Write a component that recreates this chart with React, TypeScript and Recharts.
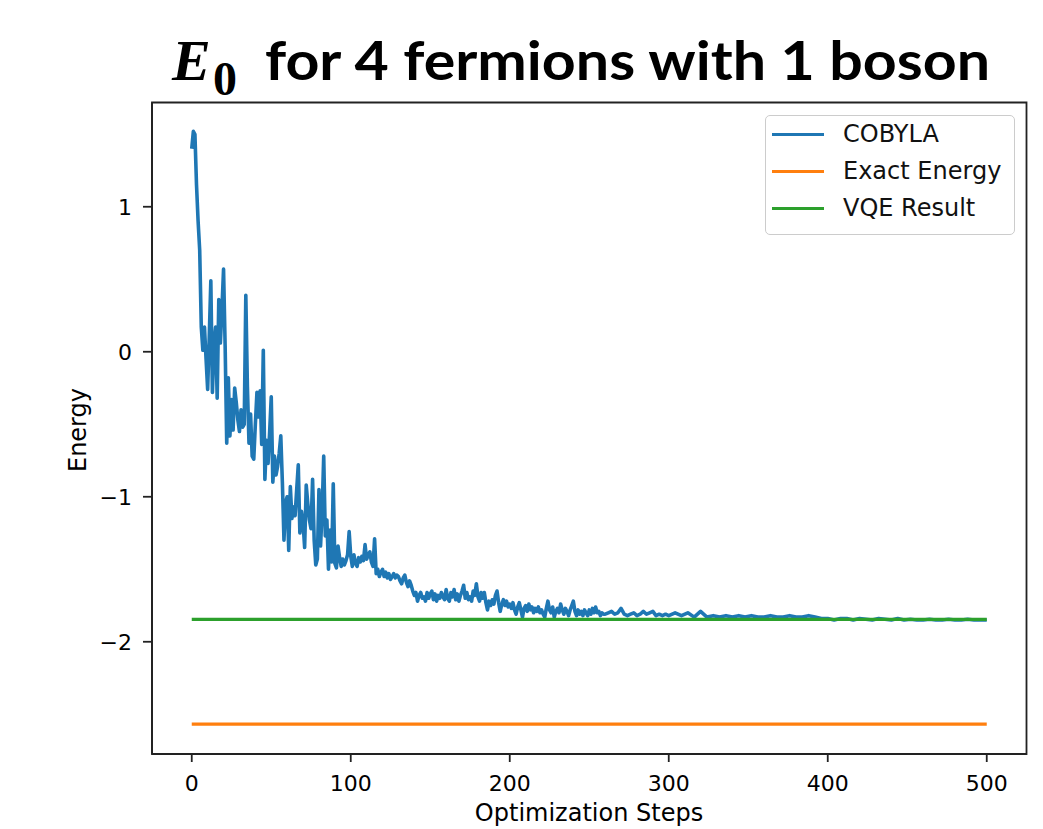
import { LineChart, Line, XAxis, YAxis, Legend, ReferenceArea } from "recharts";

// COBYLA energy per optimization step
// steps 0..119, one value per step
const cobylaEarly = [
  1.4, 1.52, 1.5, 1.15, 0.9, 0.7, 0.17, 0.01, 0.17, -0.05,
  -0.26, 0.1, 0.49, -0.28, 0.05, 0.17, -0.32, 0.36, 0.06, 0.3,
  0.57, 0.04, -0.63, -0.18, -0.58, -0.33, -0.54, -0.25, -0.35, -0.47,
  -0.55, -0.4, -0.52, -0.5, 0.39, -0.24, -0.63, -0.43, -0.72, -0.74,
  -0.5, -0.28, -0.45, -0.27, -0.64, 0.01, -0.88, -0.61, -0.77, -0.55,
  -0.31, -0.9, -0.72, -0.85, -0.79, -0.7, -0.58, -0.9, -1.3, -1.04,
  -1.0, -1.37, -0.93, -1.15, -1.07, -1.13, -0.95, -0.78, -1.25, -1.1,
  -1.18, -1.35, -0.92, -1.05, -1.16, -1.22, -0.88, -1.3, -1.47, -1.43,
  -0.95, -1.34, -1.1, -0.72, -1.27, -1.16, -1.5, -1.23, -1.45, -0.91,
  -1.46, -1.49, -1.34, -1.42, -1.48, -1.43, -1.47, -1.44, -1.4, -1.24,
  -1.41, -1.48, -1.4, -1.46, -1.48, -1.42, -1.45, -1.41, -1.44, -1.33,
  -1.43, -1.4, -1.38, -1.45, -1.48, -1.29, -1.53, -1.5, -1.55, -1.52,
];

// steps 120..259, one value per step
const cobylaMid = [
  -1.5, -1.55, -1.52, -1.56, -1.53, -1.57, -1.55, -1.53, -1.56, -1.54,
  -1.55, -1.58, -1.6, -1.56, -1.54, -1.59, -1.62, -1.58, -1.61, -1.65,
  -1.68, -1.66, -1.72, -1.68, -1.66, -1.7, -1.69, -1.72, -1.66, -1.7,
  -1.67, -1.65, -1.71, -1.67, -1.72, -1.68, -1.7, -1.66, -1.69, -1.71,
  -1.64, -1.7, -1.72, -1.66, -1.69, -1.64, -1.71, -1.67, -1.72, -1.68,
  -1.65, -1.61, -1.7, -1.66, -1.71, -1.69, -1.72, -1.65, -1.68, -1.6,
  -1.69, -1.72, -1.66, -1.7, -1.66, -1.73, -1.78, -1.72, -1.75, -1.71,
  -1.74, -1.68, -1.65, -1.73, -1.79, -1.74, -1.71, -1.75, -1.72, -1.76,
  -1.74, -1.77, -1.73, -1.78, -1.81, -1.76, -1.73, -1.78, -1.83, -1.77,
  -1.75, -1.79, -1.74, -1.78, -1.76, -1.8, -1.77, -1.79, -1.76, -1.8,
  -1.78, -1.81, -1.83, -1.77, -1.72, -1.78, -1.8, -1.76, -1.83, -1.79,
  -1.77, -1.8, -1.74, -1.78, -1.81, -1.77, -1.79, -1.82, -1.78, -1.75,
  -1.72, -1.79, -1.82, -1.78, -1.81, -1.79, -1.82, -1.78, -1.8, -1.82,
  -1.78, -1.81, -1.77, -1.8, -1.76, -1.8, -1.79, -1.82, -1.8, -1.81,
];

// steps 260..300, every 2nd step
const cobylaSettle = [
  -1.81, -1.8, -1.79, -1.81, -1.8, -1.77, -1.81, -1.82, -1.81, -1.8,
  -1.82, -1.81, -1.79, -1.81, -1.8, -1.79, -1.82, -1.81, -1.82, -1.81,
  -1.82,
];

// steps 304..500, every 4th step
const cobylaLate = [
  -1.8, -1.82, -1.8, -1.83, -1.79, -1.83, -1.82, -1.83, -1.82, -1.83,
  -1.82, -1.83, -1.82, -1.83, -1.83, -1.82, -1.83, -1.83, -1.82, -1.83,
  -1.83, -1.82, -1.83, -1.84, -1.84, -1.85, -1.84, -1.84, -1.85, -1.84,
  -1.845, -1.85, -1.84, -1.845, -1.85, -1.84, -1.85, -1.845, -1.85, -1.85,
  -1.845, -1.85, -1.85, -1.845, -1.85, -1.85, -1.845, -1.85, -1.85, -1.85,
];

const exactEnergy = -2.568;
const vqeResult = -1.846;
const lastStep = 500;

const xTicks = [0, 100, 200, 300, 400, 500];
const yTicks = [-2, -1, 0, 1];

const cobyla = [
  ...cobylaEarly.map((energy, i) => ({ step: i, energy })),
  ...cobylaMid.map((energy, i) => ({ step: 120 + i, energy })),
  ...cobylaSettle.map((energy, i) => ({ step: 260 + 2 * i, energy })),
  ...cobylaLate.map((energy, i) => ({ step: 304 + 4 * i, energy })),
];
const exact = [
  { step: 0, energy: exactEnergy },
  { step: lastStep, energy: exactEnergy },
];
const vqe = [
  { step: 0, energy: vqeResult },
  { step: lastStep, energy: vqeResult },
];

const FONT = "DejaVu Sans";
const fmtY = (v: number) => (v < 0 ? `\u2212${Math.abs(v)}` : `${v}`);

function LegendBox({ payload }: any) {
  return (
    <div
      style={{
        position: "relative",
        width: 250,
        height: 120,
        boxSizing: "border-box",
        border: "1.5px solid #cccccc",
        borderRadius: 5,
        background: "rgba(255,255,255,0.8)",
        fontFamily: FONT,
        fontSize: 24,
        color: "#111",
      }}
    >
      {(payload ?? []).map((item: any, i: number) => (
        <div
          key={item.value}
          style={{ position: "absolute", left: 0, top: 3 + i * 37.2, height: 30, width: "100%" }}
        >
          <span
            style={{
              position: "absolute",
              left: 6,
              top: 13.5,
              width: 52,
              height: 3.3,
              background: item.color,
            }}
          />
          <span style={{ position: "absolute", left: 77, top: 0, lineHeight: "30px", whiteSpace: "nowrap" }}>
            {item.value}
          </span>
        </div>
      ))}
    </div>
  );
}

export default function App() {
  const tickStyle = { fill: "#000", fontSize: 22, fontFamily: FONT };
  return (
    <div style={{ position: "absolute", left: 0, top: 0, width: 1043, height: 829, background: "#fff" }}>
      <LineChart
        width={1043}
        height={829}
        margin={{ top: 102.5, right: 16.5, bottom: 30, left: 92 }}
      >
        <XAxis
          type="number"
          dataKey="step"
          domain={[-25, 525]}
          allowDataOverflow
          ticks={xTicks}
          tick={tickStyle}
          tickSize={8}
          tickMargin={13}
          height={45}
          axisLine={{ stroke: "#222", strokeWidth: 1.8 }}
          tickLine={{ stroke: "#222", strokeWidth: 1.8 }}
        />
        <YAxis
          type="number"
          dataKey="energy"
          domain={[-2.774, 1.719]}
          allowDataOverflow
          ticks={yTicks}
          tickFormatter={fmtY}
          tick={tickStyle}
          tickSize={9}
          tickMargin={11}
          width={60}
          axisLine={{ stroke: "#222", strokeWidth: 1.8 }}
          tickLine={{ stroke: "#222", strokeWidth: 1.8 }}
        />
        <ReferenceArea
          x1={-25}
          x2={525}
          y1={-2.774}
          y2={1.719}
          fill="none"
          fillOpacity={0}
          stroke="#222"
          strokeWidth={1.8}
          strokeOpacity={1}
        />
        <Line
          data={cobyla}
          dataKey="energy"
          name="COBYLA"
          type="linear"
          stroke="#1f77b4"
          strokeWidth={3.6}
          strokeLinejoin="round"
          dot={false}
          activeDot={false}
          isAnimationActive={false}
        />
        <Line
          data={exact}
          dataKey="energy"
          name="Exact Energy"
          type="linear"
          stroke="#ff7f0e"
          strokeWidth={3.3}
          dot={false}
          activeDot={false}
          isAnimationActive={false}
        />
        <Line
          data={vqe}
          dataKey="energy"
          name="VQE Result"
          type="linear"
          stroke="#2ca02c"
          strokeWidth={3.3}
          dot={false}
          activeDot={false}
          isAnimationActive={false}
        />
        <Legend
          layout="vertical"
          align="center"
          verticalAlign="middle"
          content={<LegendBox />}
          wrapperStyle={{ left: 765, top: 115, width: 250, height: 120, bottom: "auto", right: "auto" }}
        />
      </LineChart>
      <svg
        width={1043}
        height={829}
        style={{ position: "absolute", left: 0, top: 0, pointerEvents: "none" }}
      >
        <text x={172} y={80} fontFamily="Liberation Serif" fontWeight="bold" fontStyle="italic" fontSize={58} fill="#000">
          E
        </text>
        <text x={213} y={95} fontFamily="Liberation Serif" fontWeight="bold" fontSize={48} fill="#000">
          0
        </text>
        <text
          x={265}
          y={80}
          fontFamily="Lato"
          fontWeight="bold"
          fontSize={54}
          fill="#000"
          textLength={725}
          lengthAdjust="spacingAndGlyphs"
        >
          for 4 fermions with 1 boson
        </text>
        <text x={589} y={821} textAnchor="middle" fontFamily={FONT} fontSize={24} fill="#000">
          Optimization Steps
        </text>
        <text
          x={86}
          y={430}
          textAnchor="middle"
          transform="rotate(-90 86 430)"
          fontFamily={FONT}
          fontSize={24}
          fill="#000"
        >
          Energy
        </text>
      </svg>
    </div>
  );
}
